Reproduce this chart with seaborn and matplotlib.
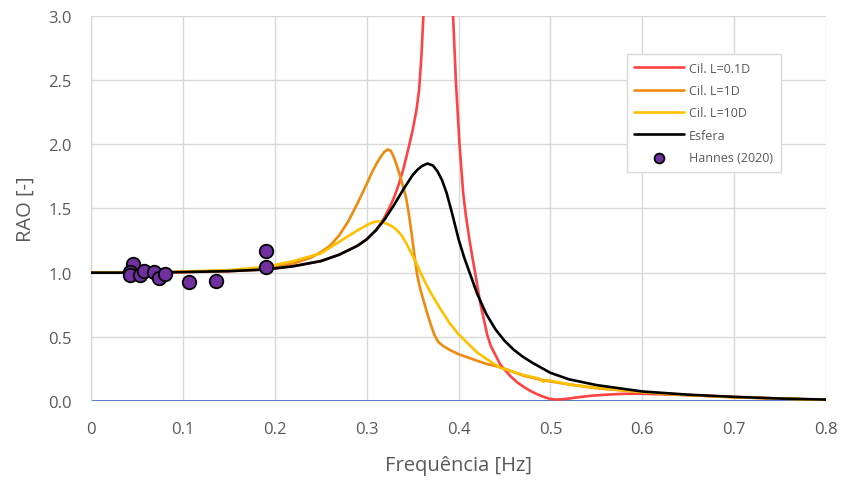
import numpy as np
import pandas as pd
import matplotlib.pyplot as plt
import seaborn as sns

# ---- Data ----
freq_red = [0.0, 0.05, 0.10, 0.15, 0.19, 0.22, 0.25, 0.27, 0.29, 0.30, 0.31, 0.315,
            0.32, 0.325, 0.33, 0.335, 0.34, 0.3465, 0.35, 0.354, 0.357, 0.3595,
            0.3617, 0.364, 0.368, 0.375, 0.38, 0.385, 0.39, 0.394, 0.397, 0.401,
            0.405, 0.408, 0.412, 0.415, 0.418, 0.421, 0.424, 0.428, 0.431, 0.435,
            0.44, 0.445, 0.45, 0.457, 0.464, 0.471, 0.478, 0.485, 0.492, 0.498,
            0.505, 0.512, 0.52, 0.53, 0.545, 0.56, 0.58, 0.60, 0.65, 0.70, 0.75, 0.80]
rao_red = [1.0, 1.0, 1.005, 1.012, 1.025, 1.05, 1.09, 1.14, 1.21, 1.26, 1.33, 1.38,
           1.44, 1.51, 1.59, 1.69, 1.81, 2.0, 2.11, 2.26, 2.42, 2.68,
           3.0, 3.4, 4.2, 5.5, 6.0, 5.5, 4.0, 3.0, 2.5, 2.0,
           1.62, 1.44, 1.25, 1.12, 1.0, 0.87, 0.75, 0.62, 0.52, 0.43,
           0.36, 0.29, 0.245, 0.19, 0.145, 0.11, 0.08, 0.055, 0.035, 0.02,
           0.012, 0.014, 0.02, 0.03, 0.042, 0.05, 0.057, 0.057, 0.047, 0.032, 0.02, 0.01]

freq_orange = [0.0, 0.05, 0.10, 0.15, 0.19, 0.22, 0.24, 0.25, 0.26, 0.27, 0.28, 0.29,
               0.30, 0.305, 0.31, 0.315, 0.319, 0.323, 0.326, 0.329, 0.332, 0.336,
               0.34, 0.343, 0.346, 0.349, 0.352, 0.355, 0.358, 0.362, 0.366, 0.37,
               0.374, 0.378, 0.383, 0.39, 0.40, 0.41, 0.42, 0.43, 0.445, 0.47,
               0.49, 0.52, 0.55, 0.60, 0.65, 0.70, 0.75, 0.80]
rao_orange = [1.0, 1.0, 1.005, 1.015, 1.035, 1.07, 1.12, 1.16, 1.21, 1.29, 1.40, 1.54,
              1.69, 1.77, 1.84, 1.90, 1.94, 1.96, 1.95, 1.91, 1.85, 1.76,
              1.66, 1.58, 1.45, 1.30, 1.13, 0.98, 0.88, 0.78, 0.68, 0.59,
              0.51, 0.46, 0.43, 0.40, 0.365, 0.34, 0.315, 0.29, 0.265, 0.20,
              0.165, 0.13, 0.10, 0.07, 0.047, 0.03, 0.02, 0.01]

freq_yellow = [0.0, 0.05, 0.10, 0.15, 0.19, 0.22, 0.25, 0.27, 0.29, 0.30, 0.306, 0.312,
               0.317, 0.322, 0.328, 0.333, 0.338, 0.343, 0.348, 0.353, 0.358, 0.364,
               0.37, 0.38, 0.39, 0.40, 0.41, 0.42, 0.43, 0.445, 0.47, 0.488,
               0.492, 0.496, 0.52, 0.55, 0.60, 0.65, 0.70, 0.75, 0.80]
rao_yellow = [1.0, 1.0, 1.01, 1.02, 1.045, 1.09, 1.15, 1.24, 1.33, 1.37, 1.39, 1.40,
              1.395, 1.38, 1.36, 1.33, 1.29, 1.23, 1.16, 1.09, 1.01, 0.92,
              0.84, 0.72, 0.61, 0.52, 0.45, 0.38, 0.33, 0.26, 0.205, 0.175,
              0.15, 0.165, 0.13, 0.105, 0.07, 0.047, 0.03, 0.02, 0.01]

freq_black = [0.0, 0.05, 0.10, 0.15, 0.19, 0.22, 0.25, 0.27, 0.29, 0.30, 0.31, 0.32,
              0.33, 0.34, 0.35, 0.355, 0.36, 0.366, 0.372, 0.377, 0.382, 0.387,
              0.393, 0.40, 0.406, 0.412, 0.42, 0.43, 0.44, 0.45, 0.46, 0.47,
              0.48, 0.49, 0.50, 0.52, 0.55, 0.60, 0.65, 0.70, 0.75, 0.80]
rao_black = [1.0, 1.0, 1.005, 1.012, 1.025, 1.05, 1.09, 1.14, 1.21, 1.26, 1.33, 1.42,
             1.53, 1.65, 1.76, 1.80, 1.83, 1.85, 1.835, 1.79, 1.72, 1.62,
             1.46, 1.26, 1.12, 1.0, 0.84, 0.68, 0.56, 0.47, 0.40, 0.345,
             0.30, 0.26, 0.22, 0.17, 0.125, 0.075, 0.05, 0.033, 0.02, 0.012]

hannes_freq = [0.046, 0.042, 0.042, 0.053, 0.058, 0.069, 0.074, 0.081, 0.107, 0.136, 0.190, 0.190]
hannes_rao = [1.067, 1.008, 0.98, 0.98, 1.015, 1.003, 0.958, 0.99, 0.93, 0.935, 1.171, 1.047]

x_ticks = [0, 0.1, 0.2, 0.3, 0.4, 0.5, 0.6, 0.7, 0.8]
x_tick_labels = ["0", "0.1", "0.2", "0.3", "0.4", "0.5", "0.6", "0.7", "0.8"]
y_ticks = [0.0, 0.5, 1.0, 1.5, 2.0, 2.5, 3.0]
y_tick_labels = ["0.0", "0.5", "1.0", "1.5", "2.0", "2.5", "3.0"]

# ---- Style ----
sns.set_theme(style="white")
plt.rcParams['font.family'] = ['Open Sans', 'DejaVu Sans']

fig, ax = plt.subplots(figsize=(8.43, 4.81), dpi=100)
fig.subplots_adjust(left=0.108, right=0.980, top=0.965, bottom=0.164)

grid_c = '#D9D9D9'
text_c = '#595959'

curves = [
    (freq_red, rao_red, '#FF4343', 'Cil. L=0.1D'),
    (freq_orange, rao_orange, '#EE8A0E', 'Cil. L=1D'),
    (freq_yellow, rao_yellow, '#FFC000', 'Cil. L=10D'),
    (freq_black, rao_black, '#000000', 'Esfera'),
]
for fx, fy, col, lab in curves:
    sns.lineplot(x=fx, y=fy, ax=ax, color=col, linewidth=1.9, label=lab,
                 estimator=None, sort=False, zorder=3)

# zero line
ax.axhline(0, color='#4472C4', linewidth=1.3, zorder=2)

sns.scatterplot(x=hannes_freq, y=hannes_rao, ax=ax, color='#7030A0',
                edgecolor='black', linewidth=1.3, s=95, label='Hannes (2020)', zorder=4)

ax.set_xlim(0, 0.8)
ax.set_ylim(0, 3.0)
ax.set_xticks(x_ticks)
ax.set_xticklabels(x_tick_labels)
ax.set_yticks(y_ticks)
ax.set_yticklabels(y_tick_labels)
ax.grid(True, color=grid_c, linewidth=1.0)
ax.set_axisbelow(True)
ax.tick_params(axis='both', length=0, labelsize=12, colors=text_c, pad=14)

for side in ['top', 'right', 'bottom']:
    ax.spines[side].set_visible(False)
ax.spines['left'].set_color(grid_c)
ax.spines['left'].set_linewidth(1.0)

ax.set_xlabel("Frequência [Hz]", fontsize=14.5, color=text_c, labelpad=13)
ax.set_ylabel("RAO [-]", fontsize=14.5, color=text_c, labelpad=9)

leg = ax.legend(loc='upper left', bbox_to_anchor=(0.72, 0.917), fontsize=9,
                frameon=True, fancybox=False, edgecolor=grid_c, framealpha=1,
                handlelength=4.0, labelspacing=0.75, borderpad=0.6,
                handletextpad=0.4)
leg.get_frame().set_linewidth(1.0)
leg.legend_handles[-1].set_sizes([50])
for t in leg.get_texts():
    t.set_color(text_c)

plt.savefig("out.png", dpi=100)
